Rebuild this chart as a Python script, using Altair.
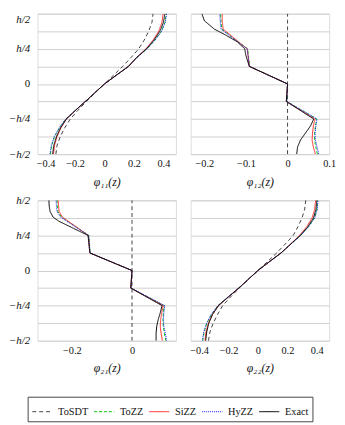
import altair as alt
import pandas as pd

METHODS = ["ToSDT", "ToZZ", "SiZZ", "HyZZ", "Exact"]
COLORS = ["#404040", "#00c800", "#ff3030", "#1a1aff", "#000000"]
DASHES = [[4, 3], [3, 2], [1, 0], [1, 1], [1, 0]]

# thickness coordinate z (in units of h)
Z_SMOOTH = [-0.5, -0.4375, -0.375, -0.3125, -0.25, -0.1875, -0.125, -0.0625, 0.0,
            0.0625, 0.125, 0.1875, 0.25, 0.3125, 0.375, 0.4375, 0.5]
Z_P2 = [-0.5, -0.45, -0.4, -0.35, -0.3, -0.25, -0.125, 0.0, 0.125, 0.2, 0.25, 0.3,
        0.35, 0.39, 0.45, 0.5]
Z_P3 = [-0.5, -0.45, -0.4, -0.35, -0.3, -0.25, -0.125, 0.0, 0.125, 0.25, 0.3, 0.35,
        0.38, 0.42, 0.46, 0.5]

# phi_11(z)
P1_TOSDT = [-0.330, -0.322, -0.300, -0.270, -0.232, -0.180, -0.123, -0.062, 0.0,
            0.062, 0.123, 0.180, 0.232, 0.270, 0.300, 0.322, 0.330]
P1_TOZZ = [-0.367, -0.358, -0.339, -0.306, -0.263, -0.197, -0.130, -0.065, 0.0,
           0.081, 0.163, 0.219, 0.288, 0.342, 0.386, 0.410, 0.419]
P1_SIZZ = [-0.346, -0.339, -0.322, -0.296, -0.258, -0.196, -0.130, -0.065, 0.0,
           0.081, 0.163, 0.217, 0.282, 0.330, 0.368, 0.390, 0.398]
P1_HYZZ = [-0.370, -0.361, -0.341, -0.307, -0.263, -0.197, -0.130, -0.065, 0.0,
           0.081, 0.163, 0.219, 0.289, 0.344, 0.388, 0.412, 0.422]
P1_EXACT = [-0.352, -0.344, -0.326, -0.298, -0.259, -0.196, -0.130, -0.065, 0.0,
            0.081, 0.163, 0.218, 0.285, 0.336, 0.376, 0.400, 0.410]

# phi_12(z)
P2_TOSDT = [0.0] * 16
P2_TOZZ = [0.072, 0.068, 0.065, 0.065, 0.067, 0.070, -0.002, 0.0, -0.091, -0.094,
           -0.096, -0.119, -0.141, -0.158, -0.160, -0.161]
P2_SIZZ = [0.067, 0.062, 0.059, 0.060, 0.062, 0.066, -0.003, 0.0, -0.092, -0.095,
           -0.097, -0.118, -0.138, -0.155, -0.157, -0.157]
P2_HYZZ = [0.075, 0.071, 0.067, 0.066, 0.068, 0.071, -0.002, 0.0, -0.092, -0.095,
           -0.097, -0.120, -0.142, -0.160, -0.162, -0.163]
P2_EXACT = [0.022, 0.024, 0.031, 0.043, 0.055, 0.063, -0.003, 0.0, -0.092, -0.100,
            -0.103, -0.121, -0.150, -0.176, -0.200, -0.206]

# phi_21(z)
P3_TOSDT = [0.0] * 16
P3_TOZZ = [0.112, 0.108, 0.104, 0.103, 0.104, 0.107, -0.003, 0.0, -0.139, -0.143,
           -0.178, -0.213, -0.234, -0.246, -0.248, -0.249]
P3_SIZZ = [0.101, 0.097, 0.094, 0.095, 0.099, 0.104, -0.004, 0.0, -0.140, -0.145,
           -0.178, -0.211, -0.231, -0.242, -0.244, -0.245]
P3_HYZZ = [0.115, 0.111, 0.106, 0.104, 0.106, 0.109, -0.003, 0.0, -0.139, -0.144,
           -0.180, -0.216, -0.237, -0.249, -0.251, -0.252]
P3_EXACT = [0.080, 0.080, 0.082, 0.087, 0.094, 0.100, -0.004, 0.0, -0.140, -0.146,
            -0.194, -0.242, -0.262, -0.272, -0.275, -0.276]

# phi_22(z)
P4_TOSDT = [-0.336, -0.326, -0.304, -0.274, -0.240, -0.185, -0.127, -0.064, 0.0,
            0.064, 0.127, 0.185, 0.240, 0.272, 0.300, 0.318, 0.325]
P4_TOZZ = [-0.375, -0.365, -0.347, -0.316, -0.272, -0.202, -0.131, -0.065, 0.0,
           0.078, 0.157, 0.223, 0.290, 0.344, 0.385, 0.402, 0.406]
P4_SIZZ = [-0.360, -0.353, -0.337, -0.309, -0.268, -0.200, -0.130, -0.065, 0.0,
           0.078, 0.157, 0.221, 0.283, 0.332, 0.368, 0.386, 0.392]
P4_HYZZ = [-0.378, -0.368, -0.349, -0.317, -0.272, -0.202, -0.131, -0.065, 0.0,
           0.078, 0.157, 0.223, 0.291, 0.345, 0.386, 0.404, 0.408]
P4_EXACT = [-0.355, -0.348, -0.334, -0.308, -0.268, -0.200, -0.130, -0.065, 0.0,
            0.078, 0.157, 0.222, 0.288, 0.340, 0.378, 0.395, 0.400]

X_DOM_11 = [-0.455, 0.485]
X_DOM_12 = [-0.233, 0.1]
X_DOM_21 = [-0.314, 0.146]
X_DOM_22 = [-0.457, 0.484]
X_TICKS_11 = [-0.4, -0.2, 0.0, 0.2, 0.4]
X_TICKS_12 = [-0.2, -0.1, 0.0, 0.1]
X_TICKS_21 = [-0.2, 0.0]
X_TICKS_22 = [-0.4, -0.2, 0.0, 0.2, 0.4]
Y_TICKS = [-0.5, -0.375, -0.25, -0.125, 0.0, 0.125, 0.25, 0.375, 0.5]

FONT = "Liberation Serif"


def frame(z, series):
    rows = []
    for m, vals in zip(METHODS, series):
        for zi, vi in zip(z, vals):
            rows.append({"method": m, "z": zi, "v": vi})
    return pd.DataFrame(rows)


LEG = alt.Legend(
    title=None, orient="none", legendX=-10, legendY=390, direction="horizontal",
    symbolType="stroke", symbolSize=420, symbolStrokeWidth=1,
    labelFont=FONT, labelFontSize=10.5, labelColor="#111", labelOffset=5,
    columnPadding=3, padding=4, strokeColor="#444",
)

Y_LABEL_EXPR = ("datum.value == 0.5 ? 'h/2' : datum.value == 0.25 ? 'h/4' : "
                "datum.value == 0 ? '0' : datum.value == -0.25 ? '\u2212h/4' : "
                "datum.value == -0.5 ? '\u2212h/2' : ''")


def yaxis(labels, top):
    if not labels:
        return alt.Axis(title=None, values=Y_TICKS, labels=False, ticks=False,
                        domain=False, grid=True, gridColor="#cfcfcf", gridWidth=1)
    baseline = ({"condition": {"test": "datum.value == 0.5", "value": "top"}, "value": "middle"}
                if top else "middle")
    return alt.Axis(
        title=None, values=Y_TICKS, ticks=False, domain=False, grid=True,
        gridColor="#cfcfcf", gridWidth=1, labelExpr=Y_LABEL_EXPR,
        labelFont=FONT, labelFontSize=11, labelPadding=8, labelColor="#111",
        labelFontStyle={"condition": {"test": "datum.value == 0", "value": "normal"}, "value": "italic"},
        labelBaseline=baseline,
    )


def xaxis(title, values):
    return alt.Axis(
        title=title, values=values, grid=False, ticks=False, domain=False,
        labelExpr="datum.value == 0 ? '0' : format(datum.value, '.1f')",
        labelFont=FONT, labelFontSize=10.5, labelPadding=5, labelFlush=False,
        labelColor="#111", titleFont=FONT, titleFontSize=12, titleFontStyle="italic",
        titleFontWeight="normal", titlePadding=7, titleColor="#111",
    )


def panel(df, xdom, xticks, title, ylabels, top):
    return alt.Chart(df).mark_line(strokeWidth=1, clip=True).encode(
        x=alt.X("v:Q", scale=alt.Scale(domain=xdom, nice=False, zero=False),
                axis=xaxis(title, xticks)),
        y=alt.Y("z:Q", scale=alt.Scale(domain=[-0.5, 0.5], nice=False, zero=False),
                axis=yaxis(ylabels, top)),
        color=alt.Color("method:N", scale=alt.Scale(domain=METHODS, range=COLORS),
                        legend=LEG),
        strokeDash=alt.StrokeDash("method:N", scale=alt.Scale(domain=METHODS, range=DASHES),
                                  legend=LEG),
        order=alt.Order("z:Q"),
    ).properties(width=141, height=143)


p1 = panel(frame(Z_SMOOTH, [P1_TOSDT, P1_TOZZ, P1_SIZZ, P1_HYZZ, P1_EXACT]),
           X_DOM_11, X_TICKS_11, "\u03c6\u2081\u2081(z)", True, True)
p2 = panel(frame(Z_P2, [P2_TOSDT, P2_TOZZ, P2_SIZZ, P2_HYZZ, P2_EXACT]),
           X_DOM_12, X_TICKS_12, "\u03c6\u2081\u2082(z)", False, True)
p3 = panel(frame(Z_P3, [P3_TOSDT, P3_TOZZ, P3_SIZZ, P3_HYZZ, P3_EXACT]),
           X_DOM_21, X_TICKS_21, "\u03c6\u2082\u2081(z)", True, False)
p4 = panel(frame(Z_SMOOTH, [P4_TOSDT, P4_TOZZ, P4_SIZZ, P4_HYZZ, P4_EXACT]),
           X_DOM_22, X_TICKS_22, "\u03c6\u2082\u2082(z)", False, False)

chart = alt.concat(
    p1, p2, p3, p4, columns=2, spacing={"row": 47, "column": 15}, bounds="flush"
).properties(
    padding={"left": 0, "top": 1, "right": 0, "bottom": 0}
).configure_view(stroke="#404040", strokeWidth=1).configure(font=FONT)

chart.save("out.html", embed_options={"renderer": "svg", "actions": False})
